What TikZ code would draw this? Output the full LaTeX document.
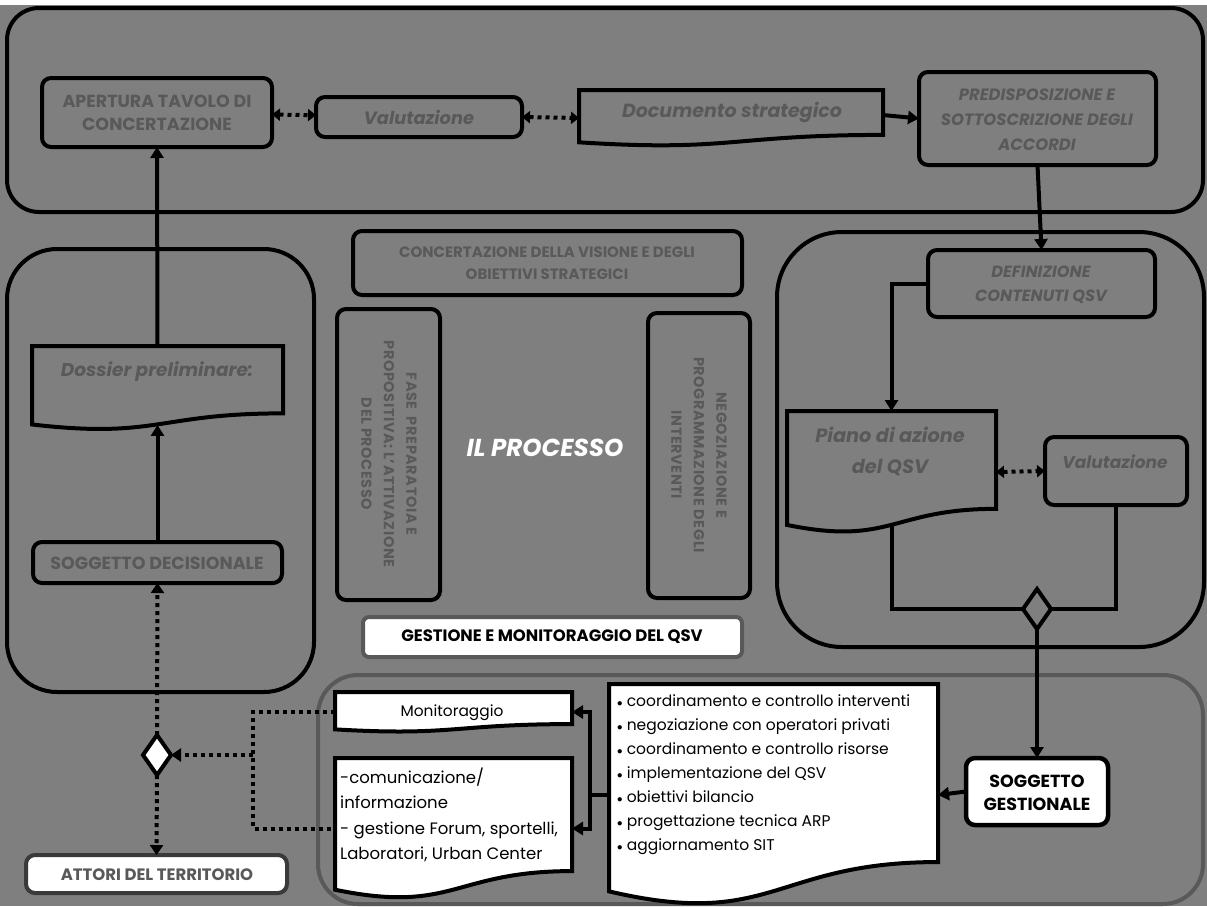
\documentclass[tikz,border=0pt]{standalone}
\usepackage{fontspec}
\setmainfont{Poppins}
\usetikzlibrary{fit,calc,arrows.meta,shapes.geometric}
\definecolor{bg}{HTML}{7F7F7F}
\definecolor{tg}{HTML}{595959}
\definecolor{dg}{HTML}{3A3A3A}
\newcommand\qsvdoc[2]{\draw[#2] (#1.north west) -- (#1.north east) -- ($(#1.north east)!0.802!(#1.south east)$) .. controls ($(#1.north)!0.802!(#1.south)$) and ($(#1.north)!1.1075!(#1.south)$) .. ($(#1.north west)!0.934!(#1.south west)$) -- cycle;}
\newcommand\qsvbul{\raisebox{0.5pt}{$\scriptstyle\bullet$}}
\tikzset{
  cont/.style={draw=black, line width=4pt, inner sep=0pt, outer sep=0pt},
  rbox/.style={draw=black, line width=4pt, rounded corners=9pt, inner sep=0pt, outer sep=0pt},
  helper/.style={inner sep=0pt, outer sep=0pt},
  docln/.style={draw=black, line width=4pt},
  gt/.style={text=tg, align=center, inner sep=0pt},
  arr/.style={line width=4pt, -{Triangle[length=11pt,width=13pt]}},
  darr/.style={line width=4pt, dash pattern=on 4pt off 4pt, {Triangle[length=8pt,width=12pt]}-{Triangle[length=8pt,width=12pt]}},
  dotarr/.style={line width=4pt, dash pattern=on 4pt off 4pt, -{Triangle[length=10pt,width=13pt]}},
  dotl/.style={line width=4pt, dash pattern=on 4pt off 4pt},
  dia/.style={diamond, draw=black, line width=4pt, minimum width=28pt, minimum height=40pt, inner sep=0pt, outer sep=0pt},
  vtext/.style={rotate=-90, align=center, text=tg, font=\bfseries\addfontfeatures{LetterSpace=4}\fontsize{14.5}{22.5}\selectfont}
}
\begin{document}
\begin{tikzpicture}[x=1pt,y=-1pt]
\useasboundingbox (0,0) rectangle (1207,906);
\fill[bg] (0,0) rectangle (1207,906);
\fill[white] (0,0) rectangle (1207,5);

% containers
\node[cont, rounded corners=32pt, fit={(7,8) (1203,212)}] (topzone) {};
\node[cont, rounded corners=50pt, fit={(7,249) (314,692)}] (leftzone) {};
\node[cont, rounded corners=65pt, fit={(777,232) (1204,647)}] (rightzone) {};
\node[cont, draw=tg, rounded corners=40pt, fit={(318,675) (1203,904)}] (botzone) {};

% top row
\node[rbox, fit={(42,78) (272,147)}] (apertura) {};
\node[gt, font=\bfseries\fontsize{17.5}{23}\selectfont] (aperturat) at (157,113) {APERTURA TAVOLO DI\\CONCERTAZIONE};
\node[rbox, fit={(316,97) (522,137)}] (valut1) {};
\node[gt, font=\bfseries\itshape\fontsize{17.8}{20}\selectfont] (valut1t) at (419,117) {Valutazione};
\node[helper, fit={(579,90) (883,146)}] (docstr) {};
\qsvdoc{docstr}{docln}
\node[gt, font=\bfseries\itshape\fontsize{19}{22}\selectfont] (docstrt) at (732,112) {Documento strategico};
\node[rbox, fit={(919,72) (1156,165)}] (pred) {};
\node[gt, font=\bfseries\itshape\fontsize{16.4}{25}\selectfont] (predt) at (1037,120) {PREDISPOSIZIONE E\\SOTTOSCRIZIONE DEGLI\\ACCORDI};

% centre
\node[rbox, fit={(353,231) (742,295)}] (concert) {};
\node[gt, font=\bfseries\fontsize{15}{22}\selectfont] (concertt) at (547,263) {CONCERTAZIONE DELLA VISIONE E DEGLI\\OBIETTIVI STRATEGICI};
\node[rbox, fit={(337,309) (440,600)}] (fase) {};
\node[vtext] (faset) at (389,454) {FASE \ PREPARATOIA E\\PROPOSITIVA: L’ATTIVAZIONE\\DEL PROCESSO};
\node[rbox, fit={(648,313) (750,598)}] (negoz) {};
\node[vtext] (negozt) at (699,455) {NEGOZIAZIONE E\\PROGRAMMAZIONE DEGLI\\INTERVENTI};
\node[text=white, font=\bfseries\itshape\fontsize{24.5}{28}\selectfont] (processo) at (545,448) {IL PROCESSO};
\node[draw=tg, fill=white, line width=4pt, rounded corners=6pt, inner sep=0pt, fit={(363,617) (742,657)}] (gestione) {};
\node[text=black, inner sep=0pt, font=\bfseries\fontsize{16.5}{18}\selectfont] (gestionet) at (552,637) {GESTIONE E MONITORAGGIO DEL QSV};

% left column
\node[helper, fit={(32,346) (283,430)}] (dossier) {};
\qsvdoc{dossier}{docln}
\node[gt, font=\bfseries\itshape\fontsize{18.5}{22}\selectfont] (dossiert) at (157,372) {Dossier preliminare:};
\node[rbox, fit={(33,542) (282,583)}] (sogdec) {};
\node[gt, font=\bfseries\fontsize{17.5}{18}\selectfont] (sogdect) at (157,563) {SOGGETTO DECISIONALE};
\node[dia, fill=white] (dia1) at (157,755) {};
\node[rbox, fill=white, draw=dg, fit={(26,855) (287,893)}] (attori) {};
\node[gt, font=\bfseries\fontsize{16.5}{18}\selectfont] (attorit) at (157,875) {ATTORI DEL TERRITORIO};

% right column
\node[rbox, fit={(928,250) (1155,317)}] (defin) {};
\node[gt, font=\bfseries\itshape\fontsize{16.2}{24}\selectfont] (defint) at (1041,285) {DEFINIZIONE\\CONTENUTI QSV};
\node[helper, fit={(787,411) (996,533)}] (piano) {};
\qsvdoc{piano}{docln}
\node[gt, font=\bfseries\itshape\fontsize{19.3}{31}\selectfont] (pianot) at (890,451) {Piano di azione\\del QSV};
\node[rbox, fit={(1045,437) (1187,505)}] (valut2) {};
\node[gt, font=\bfseries\itshape\fontsize{17}{20}\selectfont] (valut2t) at (1115,462) {Valutazione};
\node[dia, fill=bg] (dia2) at (1037,609) {};

% bottom zone
\node[helper, fit={(335,692) (572,732)}] (monit) {};
\qsvdoc{monit}{docln, fill=white}
\node[text=black, inner sep=0pt, font=\fontsize{15.4}{18}\selectfont] (monitt) at (452,713) {Monitoraggio};
\node[helper, fit={(335,758) (572,899)}] (comun) {};
\qsvdoc{comun}{docln, fill=white}
\node[anchor=west, align=left, text=black, inner sep=0pt, font=\fontsize{16.5}{25.3}\selectfont] (comunt) at (340,815) {-comunicazione/\\informazione\\- gestione Forum, sportelli,\\Laboratori, Urban Center};
\node[helper, fit={(609,684) (938,906)}] (bullets) {};
\qsvdoc{bullets}{docln, fill=white}
\node[anchor=west, align=left, text=black, inner sep=0pt, font=\fontsize{15.5}{24}\selectfont] (bulletst) at (617,775) {\qsvbul\ coordinamento e controllo interventi\\\qsvbul\ negoziazione con operatori privati\\\qsvbul\ coordinamento e controllo risorse\\\qsvbul\ implementazione del QSV\\\qsvbul\ obiettivi bilancio\\\qsvbul\ progettazione tecnica ARP\\\qsvbul\ aggiornamento SIT};
\node[rbox, fill=white, line width=4.5pt, fit={(966,758) (1108,825)}] (sogges) {};
\node[text=black, align=center, inner sep=0pt, font=\bfseries\fontsize{17.5}{23}\selectfont] (soggest) at (1037,793) {SOGGETTO\\GESTIONALE};

% connectors
\draw[darr] (apertura) -- (valut1);
\draw[darr] (valut1.east) -- (docstr.west);
\draw[arr] ($(docstr.east)+(0,-3)$) -- (pred.west);
\draw[arr] (pred.south) -- (defin.north);
\draw[arr] (dossier.north) -- (apertura.south);
\draw[arr] (sogdec.north) -- ($(dossier.north)!0.94!(dossier.south)$);
\draw[dotarr] (dia1.north) -- (sogdec.south);
\draw[dotarr] (dia1.south) -- (attori.north);
\draw[arr] (defin.west) -| (piano.north);
\draw[darr] (piano.east) -- (valut2.west);
\draw[line width=4pt] ($(piano.north)!0.93!(piano.south)$) |- (dia2.west);
\draw[line width=4pt] (valut2.south) |- (dia2.east);
\draw[arr] (dia2.south) -- (sogges.north);
\draw[arr] (sogges.west) -- (bullets.east);
\coordinate (jn) at ($(bullets.west)+(-19,0)$);
\draw[line width=4pt] (bullets.west) -- (jn);
\draw[arr] (jn) |- (monit.east);
\draw[arr] (jn) |- (comun.east);
\coordinate (lj) at (253,755);
\draw[dotl] (monit.west) -| (lj) |- (comun.west);
\draw[dotarr] (lj) -- (dia1.east);
\end{tikzpicture}
\end{document}
